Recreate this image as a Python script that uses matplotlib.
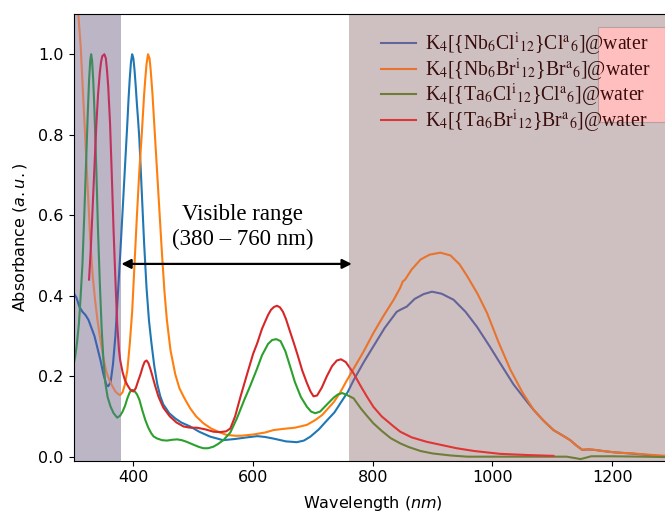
import numpy as np
import matplotlib
matplotlib.use("Agg")
import matplotlib.pyplot as plt
from matplotlib.patches import Rectangle
from matplotlib.font_manager import FontProperties

# --- data (wavelength nm, normalised absorbance) ---
nbcl_x = [300, 305, 310, 315, 320, 325, 330, 335, 340, 345, 350, 355, 358, 362, 366, 370, 374, 378, 382, 386,
          390, 392, 394, 396, 398, 400, 402, 404, 406, 408, 410, 414, 418, 422, 426, 430, 435, 440, 445, 450,
          460, 470, 480, 495, 510, 528, 550, 570, 590, 607, 620, 634, 655, 673, 685, 696, 710, 724, 736, 746,
          758, 768, 785, 801, 820, 840, 846, 857, 870, 885, 899, 915, 935, 955, 974, 995, 1013, 1035, 1058,
          1069, 1085, 1102, 1118, 1130, 1140, 1150, 1160, 1170, 1185, 1202, 1230, 1260, 1290]
nbcl_y = [0.407, 0.395, 0.372, 0.360, 0.352, 0.340, 0.320, 0.300, 0.270, 0.240, 0.205, 0.178, 0.175, 0.185,
          0.230, 0.300, 0.400, 0.500, 0.610, 0.720, 0.830, 0.890, 0.940, 0.980, 1.000, 0.990, 0.960, 0.920,
          0.875, 0.835, 0.790, 0.660, 0.530, 0.420, 0.340, 0.285, 0.225, 0.180, 0.150, 0.130, 0.108, 0.095,
          0.085, 0.075, 0.062, 0.050, 0.041, 0.044, 0.048, 0.051, 0.049, 0.045, 0.038, 0.036, 0.040, 0.050,
          0.068, 0.091, 0.110, 0.133, 0.160, 0.190, 0.235, 0.274, 0.320, 0.360, 0.365, 0.373, 0.392, 0.404,
          0.410, 0.405, 0.390, 0.360, 0.323, 0.275, 0.232, 0.180, 0.136, 0.116, 0.090, 0.066, 0.052, 0.041,
          0.028, 0.017, 0.018, 0.017, 0.014, 0.011, 0.008, 0.004, 0.000]

nbbr_x = [300, 304, 308, 312, 316, 320, 324, 328, 332, 336, 340, 345, 350, 355, 360, 365, 370, 375, 378, 382,
          386, 390, 394, 398, 402, 406, 410, 414, 418, 420, 422, 424.5, 427, 429, 432, 436, 440, 444, 448, 452,
          456, 462, 470, 477, 484, 495, 505, 517, 530, 545, 556, 570, 580, 600, 620, 634, 650, 670, 690, 705,
          715, 723, 735, 745, 755, 767, 785, 801, 818, 835, 846, 850, 854, 865, 880, 895, 913, 930, 945, 958,
          975, 991, 1010, 1030, 1050, 1069, 1085, 1102, 1118, 1130, 1140, 1150, 1160, 1170, 1190, 1210, 1236,
          1260, 1290]
nbbr_y = [1.40, 1.25, 1.10, 1.02, 0.90, 0.78, 0.66, 0.54, 0.45, 0.39, 0.34, 0.29, 0.245, 0.21, 0.19, 0.175,
          0.162, 0.155, 0.153, 0.160, 0.180, 0.215, 0.280, 0.360, 0.480, 0.600, 0.710, 0.800, 0.900, 0.940,
          0.975, 1.000, 0.990, 0.960, 0.900, 0.800, 0.700, 0.600, 0.500, 0.410, 0.340, 0.265, 0.205, 0.170,
          0.149, 0.120, 0.100, 0.083, 0.070, 0.060, 0.054, 0.052, 0.052, 0.055, 0.060, 0.066, 0.069, 0.072,
          0.079, 0.092, 0.103, 0.116, 0.136, 0.158, 0.185, 0.216, 0.262, 0.307, 0.350, 0.390, 0.420, 0.435,
          0.440, 0.465, 0.490, 0.502, 0.507, 0.500, 0.478, 0.448, 0.405, 0.357, 0.285, 0.216, 0.160, 0.116,
          0.090, 0.066, 0.052, 0.041, 0.028, 0.017, 0.018, 0.017, 0.013, 0.010, 0.008, 0.005, 0.002]

tacl_x = [300, 303, 306, 309, 312, 315, 318, 321, 324, 326, 328, 329.5, 331, 333, 335, 338, 341, 344, 347, 350,
          353, 357, 362, 367, 373, 378, 382, 386, 390, 394, 398, 402, 406, 410, 415, 420, 425, 430, 434, 440,
          448, 456, 465, 473, 481, 489, 500, 510, 517, 525, 534, 542, 551, 562, 573, 585, 595, 606, 615, 625,
          632, 639, 646, 654, 662, 670, 680, 690, 697, 704, 712, 723, 735, 742, 749, 756, 768, 780, 790, 801,
          815, 830, 846, 860, 880, 900, 930, 958, 1000, 1050, 1100, 1124, 1140, 1147, 1155, 1165, 1200, 1250,
          1290]
tacl_y = [0.228, 0.250, 0.285, 0.330, 0.400, 0.480, 0.600, 0.730, 0.860, 0.935, 0.985, 1.000, 0.985, 0.935,
          0.860, 0.720, 0.560, 0.430, 0.320, 0.240, 0.185, 0.148, 0.124, 0.108, 0.097, 0.102, 0.112, 0.126,
          0.145, 0.160, 0.166, 0.163, 0.155, 0.142, 0.115, 0.091, 0.072, 0.058, 0.050, 0.045, 0.041, 0.040,
          0.042, 0.043, 0.041, 0.037, 0.030, 0.024, 0.021, 0.021, 0.025, 0.032, 0.042, 0.060, 0.095, 0.140,
          0.175, 0.216, 0.252, 0.280, 0.290, 0.292, 0.287, 0.262, 0.224, 0.185, 0.148, 0.124, 0.112, 0.108,
          0.112, 0.129, 0.147, 0.155, 0.158, 0.154, 0.145, 0.120, 0.102, 0.083, 0.064, 0.046, 0.033, 0.024,
          0.014, 0.008, 0.003, 0.000, 0.000, 0.000, 0.000, 0.000, -0.004, -0.006, -0.003, 0.001, 0.001,
          0.000, -0.001]

tabr_x = [326, 329, 332, 335, 338, 341, 344, 346, 348, 351.5, 354, 356, 358, 361, 364, 367, 370, 373, 376, 378,
          382, 386, 390, 395, 400, 404, 408, 412, 416, 419, 422, 425, 428, 431, 436, 442, 450, 461, 472, 484,
          495, 506, 520, 534, 545, 555, 562, 570, 579, 590, 600, 607, 615, 625, 630, 635, 640, 645, 650, 655,
          662, 668, 675, 682, 690, 696, 701, 707, 715, 723, 732, 740, 747, 755, 762, 768, 780, 790, 801, 815,
          835, 846, 865, 890, 915, 940, 970, 1013, 1060, 1102]
tabr_y = [0.440, 0.520, 0.620, 0.720, 0.820, 0.900, 0.955, 0.980, 0.995, 1.000, 0.990, 0.960, 0.920, 0.830,
          0.700, 0.560, 0.440, 0.330, 0.265, 0.240, 0.210, 0.190, 0.178, 0.166, 0.162, 0.170, 0.188, 0.205,
          0.225, 0.236, 0.239, 0.233, 0.220, 0.205, 0.178, 0.149, 0.122, 0.100, 0.085, 0.075, 0.072, 0.072,
          0.068, 0.062, 0.061, 0.063, 0.070, 0.100, 0.149, 0.205, 0.255, 0.282, 0.318, 0.352, 0.365, 0.372,
          0.375, 0.371, 0.360, 0.342, 0.310, 0.283, 0.250, 0.215, 0.183, 0.162, 0.150, 0.152, 0.172, 0.199,
          0.225, 0.239, 0.242, 0.235, 0.220, 0.207, 0.175, 0.150, 0.124, 0.100, 0.075, 0.062, 0.048, 0.037,
          0.029, 0.021, 0.014, 0.007, 0.004, 0.002]

labels = [r'K$_4$[{Nb$_6$Cl$^{\mathrm{i}}$$_{12}$}Cl$^{\mathrm{a}}$$_6$]@water',
          r'K$_4$[{Nb$_6$Br$^{\mathrm{i}}$$_{12}$}Br$^{\mathrm{a}}$$_6$]@water',
          r'K$_4$[{Ta$_6$Cl$^{\mathrm{i}}$$_{12}$}Cl$^{\mathrm{a}}$$_6$]@water',
          r'K$_4$[{Ta$_6$Br$^{\mathrm{i}}$$_{12}$}Br$^{\mathrm{a}}$$_6$]@water']

# colours of each curve inside the UV band, the visible band and the NIR band
uv_colors = ['#3d62ae', '#d9805f', '#3f8a5f', '#c2305e']
vis_colors = ['#1f77b4', '#ff7f0e', '#2ca02c', '#d62728']
nir_colors = ['#64639a', '#e8732f', '#6f7d3b', '#e03535']

XMIN, XMAX = 300, 1300
YMIN, YMAX = -0.01, 1.1

fig = plt.figure(figsize=(6.65, 5.13), dpi=100)
ax = fig.add_axes([73.5 / 665, 52.3 / 513, 598.5 / 665, 446.7 / 513])

ax.axvspan(XMIN, 380, color='#bbb5c5', lw=0, zorder=0)
ax.axvspan(760, XMAX, color='#cec0c0', lw=0, zorder=0)

series = [(nbcl_x, nbcl_y), (nbbr_x, nbbr_y), (tacl_x, tacl_y), (tabr_x, tabr_y)]
bands = [(XMIN, 380, uv_colors), (380, 760, vis_colors), (760, XMAX, nir_colors)]
for i, (x, y) in enumerate(series):
    for a, b, cols in bands:
        lab = labels[i] if cols is nir_colors else None
        line, = ax.plot(x, y, color=cols[i], lw=1.5, label=lab, zorder=2)
        clip = Rectangle((a, YMIN), b - a, YMAX - YMIN, transform=ax.transData)
        line.set_clip_path(clip)

ax.set_xlim(XMIN, XMAX)
ax.set_ylim(YMIN, YMAX)
ax.set_xticks([400, 600, 800, 1000, 1200])
ax.set_yticks([0.0, 0.2, 0.4, 0.6, 0.8, 1.0])
ax.tick_params(labelsize=11.5)
ax.set_xlabel('Wavelength ($nm$)', fontsize=11.5, labelpad=6)
ax.set_ylabel('Absorbance ($a.u.$)', fontsize=11.5, labelpad=7)

# visible range arrow + label
ax.annotate('', xy=(380, 0.479), xytext=(765, 0.479),
            arrowprops=dict(arrowstyle='<|-|>', color='black', lw=1.6, mutation_scale=14,
                            shrinkA=0, shrinkB=0), zorder=6)
ax.text(583, 0.57, 'Visible range\n(380 \u2013 760 nm)', ha='center', va='center',
        fontsize=16.5, family='Liberation Serif', linespacing=1.25)

# pink box behind the right end of the legend
ax.add_patch(Rectangle((598 / 665, 1 - 122 / 513), 67 / 665, 95 / 513, transform=fig.transFigure,
                       facecolor='#ffbfbf', edgecolor='#b8a0a0', lw=0.8, clip_on=False, zorder=4))

leg = ax.legend(loc='upper left', bbox_to_anchor=(381 / 665, 1 - 31 / 513), bbox_transform=fig.transFigure,
                frameon=False, borderpad=0, borderaxespad=0, handlelength=1.75, handletextpad=0.5,
                labelspacing=-0.08,
                prop=FontProperties(family='Liberation Serif', size=14.2, math_fontfamily='stix'))
leg.set_zorder(5)
for t in leg.get_texts():
    t.set_color('#3a0d0d')

fig.savefig('out.png', dpi=100)
